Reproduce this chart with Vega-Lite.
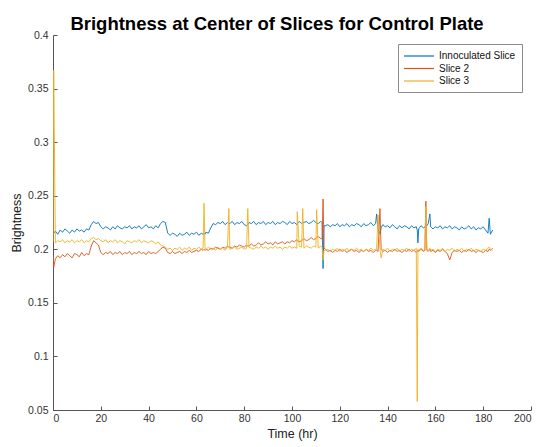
{
  "$schema": "https://vega.github.io/schema/vega-lite/v6.json",
  "width": 478,
  "height": 375,
  "autosize": {"type": "none"},
  "padding": {"left": 53, "top": 35, "right": 9, "bottom": 37},
  "background": "white",
  "title": {"text": "Brightness at Center of Slices for Control Plate", "fontSize": 18.5, "fontWeight": "bold", "font": "Liberation Sans", "color": "#000000", "anchor": "middle", "dx": -15, "dy": 6, "offset": 3, "frame": "group"},
  "config": {
    "view": {"stroke": null},
    "axis": {"grid": false, "domainColor": "#555555", "tickColor": "#555555", "tickSize": -4, "labelFont": "Liberation Sans", "labelFontSize": 10.5, "labelColor": "#333333", "titleFont": "Liberation Sans", "titleFontSize": 12.5, "titleFontWeight": "normal", "titleColor": "#222222"}
  },
  "data": {"values": [
    {"t":0,"a":0.216,"b":0.195,"c":0.207},
    {"t":0.3,"a":0.215,"b":0.183,"c":0.367},
    {"t":1,"a":0.217,"b":0.191,"c":0.206},
    {"t":2,"a":0.214,"b":0.194,"c":0.208},
    {"t":3,"a":0.218,"b":0.192,"c":0.207},
    {"t":4,"a":0.216,"b":0.195,"c":0.209},
    {"t":5,"a":0.219,"b":0.193,"c":0.206},
    {"t":6,"a":0.217,"b":0.196,"c":0.208},
    {"t":7,"a":0.215,"b":0.194,"c":0.207},
    {"t":8,"a":0.218,"b":0.192,"c":0.209},
    {"t":9,"a":0.216,"b":0.196,"c":0.206},
    {"t":10,"a":0.219,"b":0.195,"c":0.208},
    {"t":11,"a":0.217,"b":0.193,"c":0.207},
    {"t":12,"a":0.218,"b":0.197,"c":0.209},
    {"t":13,"a":0.216,"b":0.194,"c":0.206},
    {"t":14,"a":0.219,"b":0.196,"c":0.208},
    {"t":15,"a":0.218,"b":0.195,"c":0.207},
    {"t":16,"a":0.223,"b":0.203,"c":0.210},
    {"t":17,"a":0.226,"b":0.208,"c":0.211},
    {"t":18,"a":0.224,"b":0.206,"c":0.209},
    {"t":19,"a":0.225,"b":0.204,"c":0.210},
    {"t":20,"a":0.221,"b":0.197,"c":0.208},
    {"t":21,"a":0.219,"b":0.195,"c":0.207},
    {"t":22,"a":0.221,"b":0.197,"c":0.209},
    {"t":23,"a":0.220,"b":0.196,"c":0.206},
    {"t":24,"a":0.218,"b":0.198,"c":0.208},
    {"t":25,"a":0.221,"b":0.195,"c":0.207},
    {"t":26,"a":0.219,"b":0.197,"c":0.209},
    {"t":27,"a":0.222,"b":0.196,"c":0.206},
    {"t":28,"a":0.220,"b":0.198,"c":0.208},
    {"t":29,"a":0.219,"b":0.195,"c":0.207},
    {"t":30,"a":0.221,"b":0.197,"c":0.205},
    {"t":31,"a":0.220,"b":0.196,"c":0.208},
    {"t":32,"a":0.222,"b":0.198,"c":0.207},
    {"t":33,"a":0.219,"b":0.195,"c":0.206},
    {"t":34,"a":0.221,"b":0.197,"c":0.208},
    {"t":35,"a":0.220,"b":0.196,"c":0.207},
    {"t":36,"a":0.222,"b":0.198,"c":0.209},
    {"t":37,"a":0.219,"b":0.196,"c":0.206},
    {"t":38,"a":0.221,"b":0.197,"c":0.208},
    {"t":39,"a":0.223,"b":0.195,"c":0.207},
    {"t":40,"a":0.220,"b":0.198,"c":0.206},
    {"t":41,"a":0.221,"b":0.196,"c":0.208},
    {"t":42,"a":0.219,"b":0.197,"c":0.207},
    {"t":43,"a":0.222,"b":0.196,"c":0.205},
    {"t":44,"a":0.220,"b":0.198,"c":0.207},
    {"t":45,"a":0.224,"b":0.200,"c":0.204},
    {"t":46,"a":0.226,"b":0.202,"c":0.203},
    {"t":47,"a":0.225,"b":0.201,"c":0.202},
    {"t":48,"a":0.215,"b":0.197,"c":0.200},
    {"t":49,"a":0.213,"b":0.196,"c":0.201},
    {"t":50,"a":0.215,"b":0.198,"c":0.199},
    {"t":51,"a":0.214,"b":0.196,"c":0.201},
    {"t":52,"a":0.212,"b":0.197,"c":0.200},
    {"t":53,"a":0.215,"b":0.198,"c":0.202},
    {"t":54,"a":0.213,"b":0.196,"c":0.199},
    {"t":55,"a":0.214,"b":0.198,"c":0.201},
    {"t":56,"a":0.216,"b":0.197,"c":0.200},
    {"t":57,"a":0.213,"b":0.199,"c":0.202},
    {"t":58,"a":0.215,"b":0.197,"c":0.199},
    {"t":59,"a":0.214,"b":0.198,"c":0.201},
    {"t":60,"a":0.216,"b":0.199,"c":0.200},
    {"t":61,"a":0.213,"b":0.198,"c":0.202},
    {"t":62,"a":0.215,"b":0.200,"c":0.200},
    {"t":62.8,"a":0.214,"b":0.199,"c":0.201},
    {"t":63.2,"a":0.215,"b":0.200,"c":0.243},
    {"t":63.6,"a":0.214,"b":0.199,"c":0.201},
    {"t":64,"a":0.216,"b":0.200,"c":0.200},
    {"t":65,"a":0.215,"b":0.199,"c":0.202},
    {"t":66,"a":0.220,"b":0.201,"c":0.200},
    {"t":67,"a":0.224,"b":0.200,"c":0.201},
    {"t":68,"a":0.223,"b":0.202,"c":0.199},
    {"t":69,"a":0.225,"b":0.201,"c":0.202},
    {"t":70,"a":0.224,"b":0.200,"c":0.200},
    {"t":71,"a":0.226,"b":0.202,"c":0.201},
    {"t":72,"a":0.223,"b":0.201,"c":0.199},
    {"t":73,"a":0.225,"b":0.203,"c":0.202},
    {"t":73.6,"a":0.224,"b":0.202,"c":0.238},
    {"t":74,"a":0.224,"b":0.202,"c":0.200},
    {"t":75,"a":0.226,"b":0.201,"c":0.201},
    {"t":76,"a":0.223,"b":0.203,"c":0.202},
    {"t":77,"a":0.225,"b":0.202,"c":0.200},
    {"t":78,"a":0.224,"b":0.204,"c":0.201},
    {"t":79,"a":0.226,"b":0.203,"c":0.202},
    {"t":80,"a":0.223,"b":0.202,"c":0.200},
    {"t":81,"a":0.222,"b":0.204,"c":0.201},
    {"t":81.5,"a":0.223,"b":0.203,"c":0.238},
    {"t":82,"a":0.225,"b":0.203,"c":0.202},
    {"t":83,"a":0.224,"b":0.205,"c":0.201},
    {"t":84,"a":0.226,"b":0.203,"c":0.200},
    {"t":85,"a":0.223,"b":0.204,"c":0.202},
    {"t":86,"a":0.225,"b":0.206,"c":0.201},
    {"t":87,"a":0.224,"b":0.204,"c":0.203},
    {"t":88,"a":0.226,"b":0.205,"c":0.201},
    {"t":89,"a":0.223,"b":0.207,"c":0.202},
    {"t":90,"a":0.225,"b":0.205,"c":0.200},
    {"t":91,"a":0.224,"b":0.206,"c":0.202},
    {"t":92,"a":0.226,"b":0.204,"c":0.201},
    {"t":93,"a":0.223,"b":0.207,"c":0.203},
    {"t":94,"a":0.225,"b":0.205,"c":0.201},
    {"t":95,"a":0.224,"b":0.206,"c":0.202},
    {"t":96,"a":0.226,"b":0.207,"c":0.200},
    {"t":97,"a":0.225,"b":0.205,"c":0.202},
    {"t":98,"a":0.223,"b":0.207,"c":0.201},
    {"t":99,"a":0.226,"b":0.206,"c":0.203},
    {"t":100,"a":0.224,"b":0.208,"c":0.201},
    {"t":101,"a":0.225,"b":0.207,"c":0.202},
    {"t":102,"a":0.223,"b":0.209,"c":0.201},
    {"t":102.2,"a":0.224,"b":0.208,"c":0.235},
    {"t":103,"a":0.226,"b":0.207,"c":0.203},
    {"t":104,"a":0.224,"b":0.208,"c":0.202},
    {"t":104.5,"a":0.225,"b":0.209,"c":0.238},
    {"t":105,"a":0.225,"b":0.210,"c":0.201},
    {"t":106,"a":0.226,"b":0.208,"c":0.203},
    {"t":107,"a":0.224,"b":0.209,"c":0.202},
    {"t":108,"a":0.225,"b":0.211,"c":0.201},
    {"t":109,"a":0.227,"b":0.209,"c":0.203},
    {"t":110,"a":0.225,"b":0.210,"c":0.202},
    {"t":110.3,"a":0.224,"b":0.211,"c":0.237},
    {"t":111,"a":0.224,"b":0.212,"c":0.201},
    {"t":112,"a":0.226,"b":0.210,"c":0.203},
    {"t":112.6,"a":0.225,"b":0.210,"c":0.202},
    {"t":113,"a":0.182,"b":0.247,"c":0.190},
    {"t":113.4,"a":0.222,"b":0.201,"c":0.199},
    {"t":114,"a":0.222,"b":0.200,"c":0.199},
    {"t":115,"a":0.223,"b":0.198,"c":0.200},
    {"t":116,"a":0.221,"b":0.199,"c":0.198},
    {"t":117,"a":0.223,"b":0.197,"c":0.200},
    {"t":118,"a":0.222,"b":0.199,"c":0.199},
    {"t":119,"a":0.224,"b":0.198,"c":0.201},
    {"t":120,"a":0.221,"b":0.200,"c":0.198},
    {"t":121,"a":0.223,"b":0.198,"c":0.200},
    {"t":122,"a":0.222,"b":0.199,"c":0.199},
    {"t":123,"a":0.224,"b":0.197,"c":0.201},
    {"t":124,"a":0.221,"b":0.199,"c":0.198},
    {"t":125,"a":0.223,"b":0.200,"c":0.200},
    {"t":126,"a":0.222,"b":0.198,"c":0.199},
    {"t":127,"a":0.224,"b":0.199,"c":0.201},
    {"t":128,"a":0.223,"b":0.197,"c":0.199},
    {"t":129,"a":0.221,"b":0.199,"c":0.200},
    {"t":130,"a":0.224,"b":0.198,"c":0.198},
    {"t":131,"a":0.222,"b":0.200,"c":0.200},
    {"t":132,"a":0.223,"b":0.198,"c":0.199},
    {"t":133,"a":0.225,"b":0.199,"c":0.201},
    {"t":134,"a":0.222,"b":0.197,"c":0.199},
    {"t":135,"a":0.224,"b":0.199,"c":0.200},
    {"t":135.4,"a":0.233,"b":0.199,"c":0.200},
    {"t":136,"a":0.219,"b":0.198,"c":0.232},
    {"t":136.8,"a":0.214,"b":0.238,"c":0.200},
    {"t":137.3,"a":0.220,"b":0.200,"c":0.192},
    {"t":138,"a":0.223,"b":0.198,"c":0.200},
    {"t":139,"a":0.221,"b":0.199,"c":0.199},
    {"t":140,"a":0.222,"b":0.197,"c":0.201},
    {"t":141,"a":0.220,"b":0.199,"c":0.198},
    {"t":142,"a":0.223,"b":0.198,"c":0.200},
    {"t":143,"a":0.221,"b":0.200,"c":0.199},
    {"t":144,"a":0.219,"b":0.198,"c":0.201},
    {"t":145,"a":0.222,"b":0.199,"c":0.198},
    {"t":146,"a":0.220,"b":0.197,"c":0.200},
    {"t":147,"a":0.222,"b":0.199,"c":0.199},
    {"t":148,"a":0.221,"b":0.198,"c":0.201},
    {"t":149,"a":0.219,"b":0.200,"c":0.198},
    {"t":150,"a":0.222,"b":0.198,"c":0.200},
    {"t":151,"a":0.220,"b":0.199,"c":0.199},
    {"t":152,"a":0.221,"b":0.197,"c":0.201},
    {"t":152.4,"a":0.218,"b":0.198,"c":0.058},
    {"t":152.7,"a":0.206,"b":0.199,"c":0.200},
    {"t":153,"a":0.219,"b":0.198,"c":0.199},
    {"t":154,"a":0.222,"b":0.200,"c":0.201},
    {"t":155,"a":0.220,"b":0.198,"c":0.199},
    {"t":155.6,"a":0.221,"b":0.199,"c":0.200},
    {"t":156,"a":0.221,"b":0.245,"c":0.240},
    {"t":156.4,"a":0.222,"b":0.199,"c":0.200},
    {"t":157,"a":0.224,"b":0.198,"c":0.199},
    {"t":157.7,"a":0.233,"b":0.200,"c":0.201},
    {"t":158,"a":0.221,"b":0.198,"c":0.199},
    {"t":159,"a":0.219,"b":0.199,"c":0.200},
    {"t":160,"a":0.221,"b":0.197,"c":0.198},
    {"t":161,"a":0.220,"b":0.199,"c":0.200},
    {"t":162,"a":0.222,"b":0.198,"c":0.199},
    {"t":163,"a":0.219,"b":0.200,"c":0.201},
    {"t":164,"a":0.221,"b":0.198,"c":0.198},
    {"t":165,"a":0.220,"b":0.196,"c":0.200},
    {"t":166,"a":0.222,"b":0.190,"c":0.199},
    {"t":167,"a":0.219,"b":0.197,"c":0.201},
    {"t":168,"a":0.221,"b":0.199,"c":0.198},
    {"t":169,"a":0.220,"b":0.198,"c":0.200},
    {"t":170,"a":0.218,"b":0.199,"c":0.199},
    {"t":171,"a":0.221,"b":0.197,"c":0.201},
    {"t":172,"a":0.219,"b":0.199,"c":0.198},
    {"t":173,"a":0.220,"b":0.198,"c":0.200},
    {"t":174,"a":0.222,"b":0.200,"c":0.199},
    {"t":175,"a":0.219,"b":0.198,"c":0.201},
    {"t":176,"a":0.221,"b":0.199,"c":0.198},
    {"t":177,"a":0.218,"b":0.197,"c":0.200},
    {"t":178,"a":0.220,"b":0.199,"c":0.199},
    {"t":179,"a":0.219,"b":0.198,"c":0.198},
    {"t":180,"a":0.221,"b":0.197,"c":0.200},
    {"t":181,"a":0.218,"b":0.199,"c":0.199},
    {"t":182,"a":0.215,"b":0.198,"c":0.201},
    {"t":182.5,"a":0.229,"b":0.200,"c":0.202},
    {"t":183,"a":0.214,"b":0.199,"c":0.200},
    {"t":184,"a":0.218,"b":0.201,"c":0.199}
  ]},
  "transform": [{"fold": ["a", "b", "c"], "as": ["series", "brightness"]}],
  "mark": {"type": "line", "strokeWidth": 0.9, "clip": true},
  "encoding": {
    "x": {"field": "t", "type": "quantitative", "scale": {"domain": [0, 200], "nice": false}, "axis": {"title": "Time (hr)", "values": [0, 20, 40, 60, 80, 100, 120, 140, 160, 180, 200], "labelPadding": 7, "titlePadding": 4}},
    "y": {"field": "brightness", "type": "quantitative", "scale": {"domain": [0.05, 0.4], "nice": false, "zero": false}, "axis": {"title": "Brightness", "values": [0.05, 0.1, 0.15, 0.2, 0.25, 0.3, 0.35, 0.4], "format": ".2~f", "labelPadding": 9, "titlePadding": 4}},
    "color": {"field": "series", "type": "nominal", "scale": {"domain": ["a", "b", "c"], "range": ["#0072BD", "#D95319", "#EDB120"]}, "legend": {"title": null, "orient": "none", "legendX": 345, "legendY": 9, "strokeColor": "#8c8c8c", "fillColor": "white", "padding": 6, "symbolType": "M-3,0H3", "symbolSize": 100, "symbolOffset": 9, "labelOffset": 14, "symbolStrokeWidth": 1.2, "symbolOpacity": 1, "symbolFillColor": "transparent", "labelFont": "Liberation Sans", "labelFontSize": 10, "labelColor": "#111111", "rowPadding": 1.5, "labelExpr": "datum.label == 'a' ? 'Innoculated Slice' : datum.label == 'b' ? 'Slice 2' : 'Slice 3'"}}
  }
}
